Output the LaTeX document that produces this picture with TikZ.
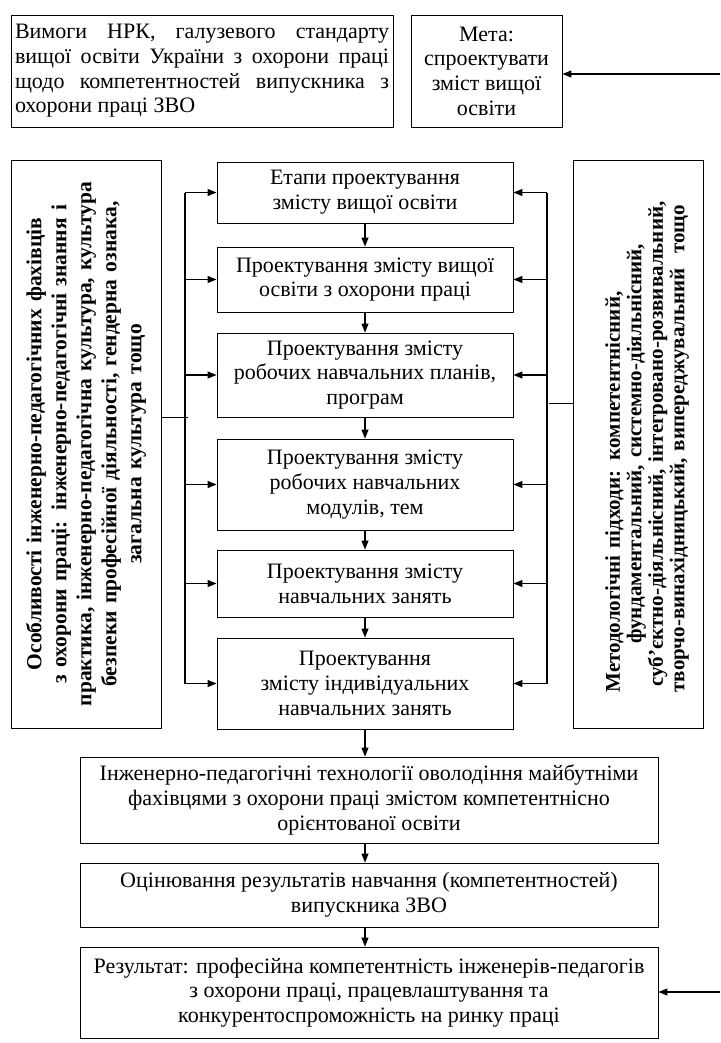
\documentclass[tikz,border=0pt]{standalone}
\usepackage{fontspec}
\setmainfont{Liberation Serif}
\usetikzlibrary{arrows.meta}

\tikzset{
	box/.style={draw, line width=0.9pt, align=center, inner sep=0pt, font=\fontsize{22}{24.7}\selectfont},
	sidebox/.style={draw, line width=0.9pt, minimum width=#1, minimum height=568pt},
	sidetext/.style={rotate=90, align=center, font=\bfseries\fontsize{21.5}{25}\selectfont},
	arr/.style={line width=1.1pt, -{Triangle[length=9pt,width=7pt]}},
	bus/.style={line width=0.9pt}
}

\begin{document}
\begin{tikzpicture}[x=1pt, y=-1pt]
	\useasboundingbox (0,0) rectangle (720,1043);

	\node[box, minimum width=382pt, minimum height=112pt, text width=374pt, align=justify] (req) at (202,71) {Вимоги НРК, галузевого стандарту\linebreak вищої освіти України з охорони праці\linebreak щодо компетентностей випускника з\linebreak охорони праці ЗВО};
	\node[box, minimum width=151pt, minimum height=112pt] (goal) at (486.5,71) {Мета:\\спроектувати\\зміст вищої\\освіти};

	\node[box, minimum width=296pt, minimum height=61pt] (b1) at (365,192.5) {Етапи проектування\\змісту вищої освіти};
	\node[box, minimum width=296pt, minimum height=65pt] (b2) at (365,279.5) {Проектування змісту вищої\\освіти з охорони праці};
	\node[box, minimum width=296pt, minimum height=84pt] (b3) at (365,375) {Проектування змісту\\робочих навчальних планів,\\програм};
	\node[box, minimum width=296pt, minimum height=91pt] (b4) at (365,484.5) {Проектування змісту\\робочих навчальних\\модулів, тем};
	\node[box, minimum width=296pt, minimum height=67pt] (b5) at (365,583.5) {Проектування змісту\\навчальних занять};
	\node[box, minimum width=296pt, minimum height=91pt] (b6) at (365,683.5) {Проектування\\змісту індивідуальних\\навчальних занять};

	\node[sidebox=150pt] (feat) at (86,444) {};
	\node[sidetext, text width=560pt] (feattext) at (feat.center) {Особливості інженерно-педагогічних фахівців\\з охорони праці: інженерно-педагогічні знання і\\практика, інженерно-педагогічна культура, культура\\безпеки професійної діяльності, гендерна ознака,\\загальна культура тощо};
	\node[sidebox=130pt] (meth) at (638,444) {};
	\node[sidetext, text width=500pt, font=\bfseries\fontsize{21}{21.5}\selectfont] (methtext) at ([xshift=9pt]meth.center) {\makebox[497pt][s]{Методологічні підходи: компетентнісний,}\\фундаментальний, системно-діяльнісний,\\суб’єктно-діяльнісний, інтегровано-розвивальний,\\\makebox[497pt][s]{творчо-винахідницький, випереджувальний\ \ тощо}};

	\node[box, minimum width=578pt, minimum height=86pt] (tech) at (369,800) {Інженерно-педагогічні технології оволодіння майбутніми\\фахівцями з охорони праці змістом компетентнісно\\орієнтованої освіти};
	\node[box, minimum width=578pt, minimum height=64pt] (eval) at (369,895) {Оцінювання результатів навчання (компетентностей)\\випускника ЗВО};
	\node[box, minimum width=578pt, minimum height=91pt] (res) at (369,992.5) {Результат: професійна компетентність інженерів-педагогів\\з охорони праці, працевлаштування та\\конкурентоспроможність на ринку праці};

	\foreach \a/\b in {b1/b2,b2/b3,b3/b4,b4/b5,b5/b6}
		\draw[arr] (\a.south) -- (\b.north);
	\draw[arr] (b6.south) -- (b6.south |- tech.north);
	\draw[arr] (b6.south |- tech.south) -- (b6.south |- eval.north);
	\draw[arr] (b6.south |- eval.south) -- (b6.south |- res.north);

	\coordinate (lbus) at (185,0);
	\coordinate (ljoin) at (188,417);
	\draw[bus] (ljoin -| feat.east) -- (ljoin);
	\draw[arr] (lbus |- b1.west) |- (b6.west);
	\foreach \b in {b1,b2,b3,b4,b5}
		\draw[arr] (lbus |- \b.west) -- (\b.west);

	\coordinate (rbus) at (547,0);
	\coordinate (rjoin) at (549,403);
	\draw[bus] (rjoin -| meth.west) -- (rjoin);
	\draw[arr] (rbus |- b1.east) |- (b6.east);
	\foreach \b in {b1,b2,b3,b4,b5}
		\draw[arr] (rbus |- \b.east) -- (\b.east);

	\coordinate (goalin) at (720,74);
	\draw[arr] (goalin) -- (goalin -| goal.east);
	\coordinate (resin) at (720,992);
	\draw[arr] (resin) -- (resin -| res.east);
\end{tikzpicture}
\end{document}
